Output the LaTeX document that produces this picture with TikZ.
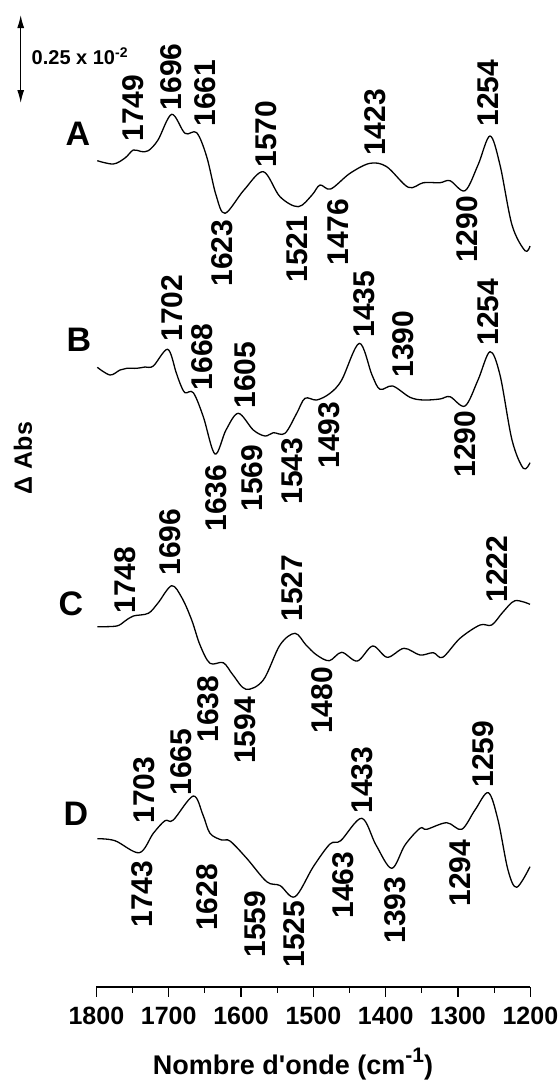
\documentclass[tikz,border=0pt]{standalone}
\usepackage{fontspec}
\setmainfont{Liberation Sans}
\usetikzlibrary{arrows.meta}

\tikzset{
  trace/.style={line width=1.3pt, line join=round},
  peak/.style={rotate=90, inner sep=0pt, font=\fontsize{30}{30}\selectfont\bfseries},
  letter/.style={inner sep=0pt, font=\fontsize{34}{34}\selectfont\bfseries},
  ticklab/.style={inner sep=0pt, font=\fontsize{25}{25}\selectfont\bfseries},
}

\begin{document}
\begin{tikzpicture}[x=1pt, y=-1pt]
    \useasboundingbox (0,0) rectangle (560,1088);

    % scale bar
    \coordinate (bartop) at (20.7,15);
    \coordinate (barbot) at (20.7,103);
    \draw[line width=1.2pt, {Latex[length=13pt,width=7pt]}-{Latex[length=13pt,width=7pt]}] (bartop) -- (barbot);
    \node[anchor=west, inner sep=0pt, font=\fontsize{20}{20}\selectfont\bfseries] (barlab) at (31.5,56) {0.25 x 10\textsuperscript{-2}};
    \node[rotate=90, inner sep=0pt, font=\fontsize{25}{25}\selectfont\bfseries] (ylab) at (23,458) {Δ Abs};

    % spectrum A
    \node[letter] (specA) at (78,134) {A};
    \draw[trace] plot[smooth, tension=0.55] coordinates {(97.3,160.7) (113.3,164) (125,158) (133.3,150) (141,151.5) (148.3,150.7) (158,140) (171.7,114.3) (185,133.3) (196.7,132.7) (206.7,156.7) (216,195) (225,213.3) (244,190) (263.3,171.7) (280,196.7) (298.3,206.7) (312,195) (320,185) (330.7,189) (350,173.3) (370,163.3) (386.7,166.7) (408.3,187.3) (423.3,182.7) (440,182.7) (450,180.7) (465,190.7) (478,165) (490,136) (500,165) (512,225) (525,250.7) (530,246)};
    \foreach \w/\px/\py in {1749/133.3/108.3, 1696/171/76.7, 1661/205/93.3, 1570/265.8/134, 1423/375/122.5, 1254/488/93, 1623/222.5/253, 1521/297/249, 1476/338/232, 1290/467/229.5}
        \node[peak] (A\w) at (\px,\py) {\w};

    % spectrum B
    \node[letter] (specB) at (79,340) {B};
    \draw[trace] plot[smooth, tension=0.55] coordinates {(97.3,367.3) (110,375) (120,370) (126.7,368.3) (136.7,368.3) (145,367) (153.3,366) (167.7,349.3) (176,372) (180,383.3) (185,392.7) (193.3,392.7) (203.3,416.7) (215,454) (226,430) (238.3,413.3) (253.3,430) (265,436) (273.3,432.7) (285,433.3) (296.7,413.3) (305,398.3) (316.7,400) (330,393.3) (341.7,380) (359.3,343.3) (372,375) (380,389.3) (392.7,386) (410,397.3) (423.3,400) (440,399) (450,396.7) (465,406) (478,380) (490,351.7) (500,375) (512,440) (523.3,468.3) (530,462.7)};
    \foreach \w/\px/\py in {1702/171.7/308, 1668/202.5/356.7, 1605/245/375, 1435/364/304, 1390/403/344, 1254/488/312, 1636/215.8/498, 1569/252/478, 1543/292/471, 1493/329/435, 1290/465/444}
        \node[peak] (B\w) at (\px,\py) {\w};

    % spectrum C
    \node[letter] (specC) at (71,604) {C};
    \draw[trace] plot[smooth, tension=0.55] coordinates {(97.3,626.7) (116.7,626) (125,621) (133.3,616) (148.3,613.3) (158,603) (171.7,585.7) (182,598) (191.7,620) (200,645) (210,663.3) (223.3,662.7) (233,675) (246,689.3) (263.3,680) (280,645) (295,633.3) (306,645) (316.7,655) (329.3,660.7) (341.7,652.3) (357.3,661) (372.7,646) (387.3,657.3) (404,648.3) (420,655) (433.3,652.7) (442.7,657.3) (460,638.3) (480,625) (491.7,625) (503,612) (515,600.7) (530,604.3)};
    \foreach \w/\px/\py in {1748/125/580, 1696/170/542, 1527/292/588, 1222/497/569, 1638/208.3/709, 1594/245/730.5, 1480/322/700.5}
        \node[peak] (C\w) at (\px,\py) {\w};

    % spectrum D
    \node[letter] (specD) at (76,813.7) {D};
    \draw[trace] plot[smooth, tension=0.55] coordinates {(97.3,838.7) (115,840.7) (139.3,852.7) (153.3,833.3) (165,820.7) (173.3,820) (193.3,796) (203,815) (210,833.3) (221.7,840) (230,841) (246.7,858.3) (266.7,881.7) (280,885.5) (295,896.7) (313.3,866.7) (330,844) (340.7,840.7) (361.7,818.3) (376,845) (391.7,868.3) (405,845) (420,828.3) (426.7,829.3) (446.7,822.7) (461.7,829.3) (475,810) (488.3,792.7) (498,820) (508,870) (516.7,887.3) (530,866.7)};
    \foreach \w/\px/\py in {1703/144/790, 1665/181.5/762, 1433/362/780, 1259/483/754, 1743/141.7/894, 1628/206.7/897.5, 1559/255/924, 1525/294/934, 1463/343/885, 1393/395/910, 1294/460/873}
        \node[peak] (D\w) at (\px,\py) {\w};

    % wavenumber axis
    \draw[line width=1.2pt] (96.4,987) -- (530.4,987);
    \foreach \w in {1750,1650,...,1250}
        \draw[line width=1.2pt] ({96.4+(1800-\w)*0.7233},987) -- ++(0,6);
    \foreach \w in {1800,1700,...,1200} {
        \draw[line width=1.2pt] ({96.4+(1800-\w)*0.7233},987) -- ++(0,10);
        \node[ticklab] (t\w) at ({96.4+(1800-\w)*0.7233},1016) {\w};
    }
    \node[inner sep=0pt, font=\fontsize{27}{27}\selectfont\bfseries] (xlab) at (293,1064) {Nombre d\textquotesingle onde (cm\raisebox{0.42em}{\fontsize{21}{21}\selectfont -1})};
\end{tikzpicture}
\end{document}
